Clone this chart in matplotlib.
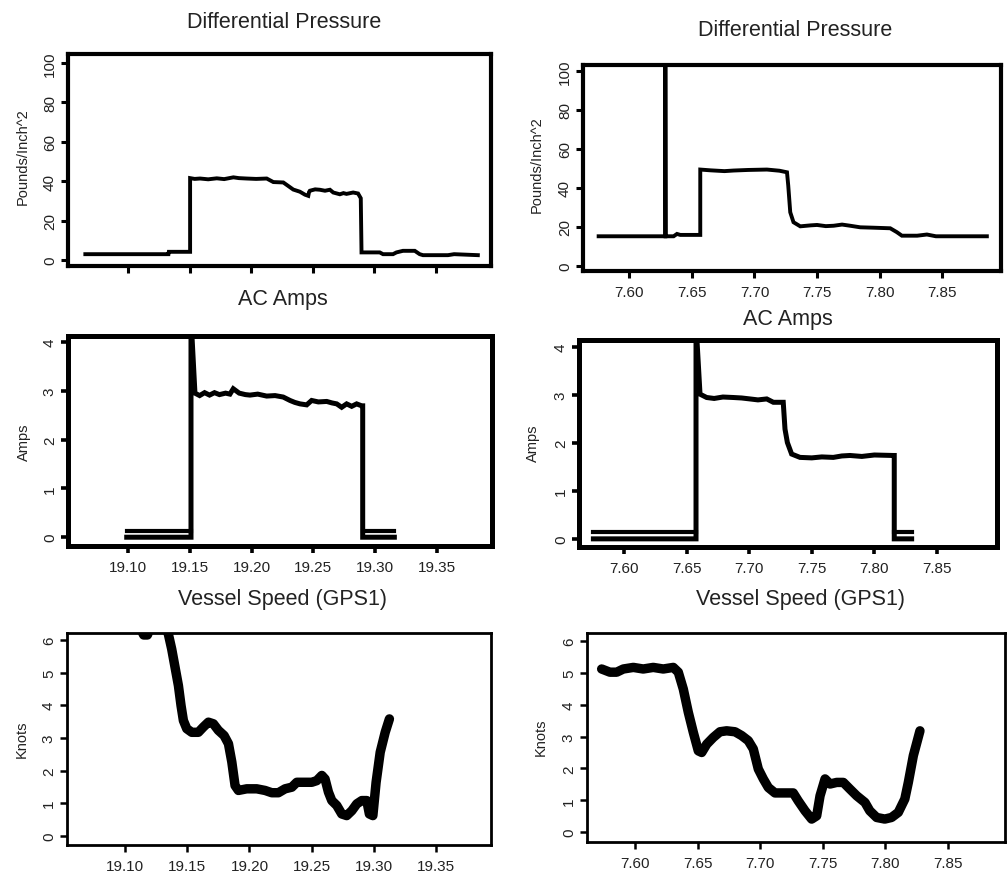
import matplotlib
matplotlib.use("Agg")
import matplotlib.pyplot as plt

plt.rcParams['font.family'] = ['Liberation Sans', 'DejaVu Sans']

# ---- Differential pressure, run 1 (x in decimal hours) ----
dp1_x = [19.0651, 19.1327, 19.1330, 19.1503, 19.1503, 19.1540, 19.1584, 19.1650,
         19.1720, 19.1780, 19.1855, 19.1900, 19.1963, 19.2040, 19.2126, 19.2150,
         19.2180, 19.2261, 19.2288, 19.2342, 19.2396, 19.2437, 19.2464, 19.2470,
         19.2477, 19.2520, 19.2558, 19.2600, 19.2640, 19.2667, 19.2721, 19.2750,
         19.2775, 19.2829, 19.2869, 19.2891, 19.2897, 19.3045, 19.3072, 19.3153,
         19.3181, 19.3234, 19.3330, 19.3370, 19.3397, 19.3600, 19.3650, 19.3843]
dp1_y = [3.0, 3.0, 4.2, 4.2, 41.6, 41.2, 41.4, 41.0,
         41.5, 41.1, 42.0, 41.6, 41.4, 41.2, 41.4, 40.6,
         39.6, 39.4, 38.2, 35.8, 34.7, 33.2, 32.6, 34.5,
         35.2, 35.9, 35.7, 35.2, 35.7, 34.3, 33.4, 34.0,
         33.6, 34.3, 33.8, 31.4, 3.9, 3.9, 3.0, 3.0,
         3.9, 4.7, 4.7, 3.0, 2.5, 2.5, 3.0, 2.5]

# ---- Differential pressure, run 2 ----
dp2_x = [7.5755, 7.6288, 7.6288, 7.6290, 7.6354, 7.6381, 7.6407, 7.6567, 7.6567,
         7.6650, 7.6760, 7.6833, 7.6950, 7.7100, 7.7200, 7.7260, 7.7270, 7.7286,
         7.7312, 7.7366, 7.7450, 7.7500, 7.7570, 7.7633, 7.7700, 7.7765, 7.7845,
         7.7950, 7.8085, 7.8138, 7.8178, 7.8300, 7.8378, 7.8450, 7.8857]
dp2_y = [15.2, 15.2, 110.0, 15.2, 15.2, 16.4, 15.9, 15.9, 49.4,
         49.0, 48.6, 48.9, 49.2, 49.4, 48.8, 48.0, 41.2, 27.5,
         22.4, 20.3, 20.8, 21.0, 20.4, 20.6, 21.2, 20.6, 19.8,
         19.6, 19.3, 17.3, 15.5, 15.5, 16.1, 15.2, 15.2]

# ---- AC amps, run 1 ----
amp1_x = [19.099, 19.151, 19.151, 19.1542, 19.1580, 19.1620, 19.1660, 19.1700,
          19.1740, 19.1790, 19.1825, 19.1852, 19.1900, 19.1950, 19.1987, 19.2050,
          19.2122, 19.2190, 19.2256, 19.2311, 19.2350, 19.2392, 19.2446, 19.2486,
          19.2540, 19.2608, 19.2650, 19.2689, 19.2729, 19.2769, 19.2810, 19.2850,
          19.2891, 19.2899, 19.2899, 19.3155]
amp1_y = [0.0, 0.0, 4.5, 2.95, 2.90, 2.96, 2.91, 2.96,
          2.92, 2.95, 2.93, 3.04, 2.95, 2.92, 2.91, 2.93,
          2.89, 2.90, 2.87, 2.80, 2.76, 2.73, 2.71, 2.80,
          2.77, 2.78, 2.75, 2.73, 2.66, 2.73, 2.68, 2.73,
          2.69, 2.69, 0.0, 0.0]
amp1_hi_x = [19.099, 19.151]
amp1_hi_y = [0.13, 0.13]
amp1_tail_x = [19.2899, 19.3155]
amp1_tail_y = [0.13, 0.13]

# ---- AC amps, run 2 ----
amp2_x = [7.5755, 7.6575, 7.6575, 7.6607, 7.6660, 7.6720, 7.6790, 7.6873, 7.6940,
          7.7006, 7.7070, 7.7140, 7.7193, 7.7272, 7.7286, 7.7305, 7.7339, 7.7406,
          7.7500, 7.7580, 7.7672, 7.7740, 7.7805, 7.7900, 7.8000, 7.8151, 7.8159,
          7.8159, 7.8298]
amp2_y = [0.0, 0.0, 4.5, 3.02, 2.95, 2.93, 2.96, 2.95, 2.94,
          2.92, 2.90, 2.92, 2.85, 2.85, 2.29, 2.01, 1.77, 1.70,
          1.69, 1.71, 1.70, 1.73, 1.74, 1.72, 1.75, 1.74, 1.74,
          0.0, 0.0]
amp2_hi_x = [7.5755, 7.6575]
amp2_hi_y = [0.15, 0.15]
amp2_tail_x = [7.8159, 7.8298]
amp2_tail_y = [0.15, 0.15]

# ---- Vessel speed, run 1 (knots) ----
spd1_x = [19.1137, 19.1150, 19.1180, 19.1200, 19.1300, 19.1348, 19.1375, 19.1402,
          19.1429, 19.1450, 19.1469, 19.1496, 19.1536, 19.1589, 19.1629, 19.1670,
          19.1710, 19.1750, 19.1796, 19.1831, 19.1858, 19.1884, 19.1911, 19.1978,
          19.2058, 19.2125, 19.2179, 19.2232, 19.2286, 19.2340, 19.2380, 19.2433,
          19.2500, 19.2540, 19.2581, 19.2607, 19.2634, 19.2661, 19.2701, 19.2741,
          19.2781, 19.2822, 19.2862, 19.2902, 19.2942, 19.2963, 19.2991, 19.3017,
          19.3050, 19.3090, 19.3124]
spd1_y = [6.25, 6.15, 6.15, 6.35, 6.60, 6.18, 5.72, 5.16,
          4.60, 3.99, 3.53, 3.28, 3.17, 3.17, 3.33, 3.48,
          3.43, 3.23, 3.07, 2.82, 2.26, 1.54, 1.39, 1.44,
          1.44, 1.39, 1.32, 1.32, 1.44, 1.49, 1.64, 1.64,
          1.64, 1.69, 1.85, 1.74, 1.34, 1.08, 0.93, 0.67,
          0.62, 0.77, 0.98, 1.08, 1.08, 0.67, 0.62, 1.64,
          2.56, 3.17, 3.58]

# ---- Vessel speed, run 2 (knots) ----
spd2_x = [7.5734, 7.5800, 7.5854, 7.5907, 7.5987, 7.6066, 7.6146, 7.6226, 7.6306,
          7.6346, 7.6386, 7.6426, 7.6466, 7.6506, 7.6533, 7.6573, 7.6625, 7.6679,
          7.6732, 7.6799, 7.6852, 7.6905, 7.6945, 7.6985, 7.7025, 7.7065, 7.7118,
          7.7198, 7.7264, 7.7304, 7.7358, 7.7411, 7.7451, 7.7478, 7.7518, 7.7558,
          7.7611, 7.7664, 7.7717, 7.7771, 7.7837, 7.7875, 7.7930, 7.7995, 7.8049,
          7.8103, 7.8155, 7.8183, 7.8223, 7.8276]
spd2_y = [5.12, 5.02, 5.02, 5.12, 5.17, 5.12, 5.17, 5.12, 5.17,
          5.02, 4.49, 3.76, 3.13, 2.55, 2.50, 2.76, 2.97, 3.15,
          3.18, 3.15, 3.03, 2.87, 2.61, 1.98, 1.67, 1.40, 1.23,
          1.23, 1.23, 0.98, 0.67, 0.41, 0.51, 1.14, 1.67, 1.51,
          1.56, 1.56, 1.35, 1.14, 0.93, 0.67, 0.46, 0.41, 0.46,
          0.62, 1.04, 1.56, 2.40, 3.18]

# ---- axis ticks ----
xticks_run1 = [19.10, 19.15, 19.20, 19.25, 19.30, 19.35]
xlabels_run1 = ["19.10", "19.15", "19.20", "19.25", "19.30", "19.35"]
xticks_run2 = [7.60, 7.65, 7.70, 7.75, 7.80, 7.85]
xlabels_run2 = ["7.60", "7.65", "7.70", "7.75", "7.80", "7.85"]
yticks_dp = [0, 20, 40, 60, 80, 100]
yticks_amp = [0, 1, 2, 3, 4]
yticks_spd = [0, 1, 2, 3, 4, 5, 6]

TITLE_DP = "Differential Pressure"
TITLE_AMP = "AC Amps"
TITLE_SPD = "Vessel Speed (GPS1)"
YLAB_DP = "Pounds/Inch^2"
YLAB_AMP = "Amps"
YLAB_SPD = "Knots"

W, H = 1008, 878
fig = plt.figure(figsize=(W / 100, H / 100), dpi=100)
fig.patch.set_facecolor("white")

TXT = "#222222"


def px_axes(x0, y0, x1, y1):
    return fig.add_axes([x0 / W, 1 - y1 / H, (x1 - x0) / W, (y1 - y0) / H])


def style(ax, frame_lw, xticks, xlabels, yticks, tick_lw):
    for s in ax.spines.values():
        s.set_linewidth(frame_lw)
        s.set_color("black")
    ax.set_xticks(xticks)
    ax.set_xticklabels(xlabels)
    ax.set_yticks(yticks)
    ax.set_yticklabels([str(v) for v in yticks])
    ax.tick_params(direction="out", length=5, width=tick_lw, colors="black",
                   labelcolor=TXT, labelsize=11)
    ax.tick_params(axis="x", pad=5)
    ax.tick_params(axis="y", pad=3)
    for lab in ax.get_yticklabels():
        lab.set_rotation(90)
        lab.set_va("center")
        lab.set_ha("right")


def fig_text(x, y, s, size, rot=0):
    fig.text(x / W, 1 - y / H, s, ha="center", va="center", rotation=rot,
             fontsize=size, color=TXT)


# Differential pressure, run 1
ax = px_axes(68, 55, 491, 267)
ax.plot(dp1_x, dp1_y, color="black", lw=2.8, solid_joinstyle="miter")
ax.set_xlim(19.051, 19.395)
ax.set_ylim(-3.0, 104.6)
style(ax, 3.0, xticks_run1, [""] * 6, yticks_dp, 2.2)
fig_text(284, 22, TITLE_DP, 15.5)
fig_text(23, 157, YLAB_DP, 10.5, 90)

# Differential pressure, run 2
ax = px_axes(583, 66, 1001, 272)
ax.plot(dp2_x, dp2_y, color="black", lw=2.8, solid_joinstyle="miter")
ax.set_xlim(7.563, 7.897)
ax.set_ylim(-2.6, 103.0)
style(ax, 3.0, xticks_run2, xlabels_run2, yticks_dp, 2.2)
fig_text(795, 30, TITLE_DP, 15.5)
fig_text(537, 165, YLAB_DP, 10.5, 90)

# AC amps, run 1
ax = px_axes(68, 337, 492, 547)
ax.plot(amp1_x, amp1_y, color="black", lw=3.6, solid_joinstyle="miter")
ax.plot(amp1_hi_x, amp1_hi_y, color="black", lw=3.0)
ax.plot(amp1_tail_x, amp1_tail_y, color="black", lw=3.0)
ax.set_xlim(19.0515, 19.3945)
ax.set_ylim(-0.18, 4.12)
style(ax, 3.6, xticks_run1, xlabels_run1, yticks_amp, 2.6)
fig_text(283, 300, TITLE_AMP, 15.5)
fig_text(24, 442, YLAB_AMP, 10.5, 90)

# AC amps, run 2
ax = px_axes(579, 341, 997, 548)
ax.plot(amp2_x, amp2_y, color="black", lw=3.6, solid_joinstyle="miter")
ax.plot(amp2_hi_x, amp2_hi_y, color="black", lw=3.0)
ax.plot(amp2_tail_x, amp2_tail_y, color="black", lw=3.0)
ax.set_xlim(7.564, 7.898)
ax.set_ylim(-0.17, 4.15)
style(ax, 3.6, xticks_run2, xlabels_run2, yticks_amp, 2.6)
fig_text(788, 320, TITLE_AMP, 15.5)
fig_text(533, 443, YLAB_AMP, 10.5, 90)

# Vessel speed, run 1
ax = px_axes(67, 634, 491, 846)
ax.plot(spd1_x, spd1_y, color="black", lw=6.8, solid_joinstyle="round",
        solid_capstyle="round")
ax.set_xlim(19.0534, 19.394)
ax.set_ylim(-0.28, 6.21)
style(ax, 2.0, xticks_run1, xlabels_run1, yticks_spd, 1.8)
fig_text(282, 599, TITLE_SPD, 15.5)
fig_text(22, 739, YLAB_SPD, 10.5, 90)

# Vessel speed, run 2
ax = px_axes(587, 634, 1005, 843)
ax.plot(spd2_x, spd2_y, color="black", lw=6.8, solid_joinstyle="round",
        solid_capstyle="round")
ax.set_xlim(7.5617, 7.8955)
ax.set_ylim(-0.31, 6.25)
style(ax, 2.0, xticks_run2, xlabels_run2, yticks_spd, 1.8)
fig_text(800, 600, TITLE_SPD, 15.5)
fig_text(541, 737, YLAB_SPD, 10.5, 90)

fig.savefig("out.png", dpi=100, facecolor="white")
